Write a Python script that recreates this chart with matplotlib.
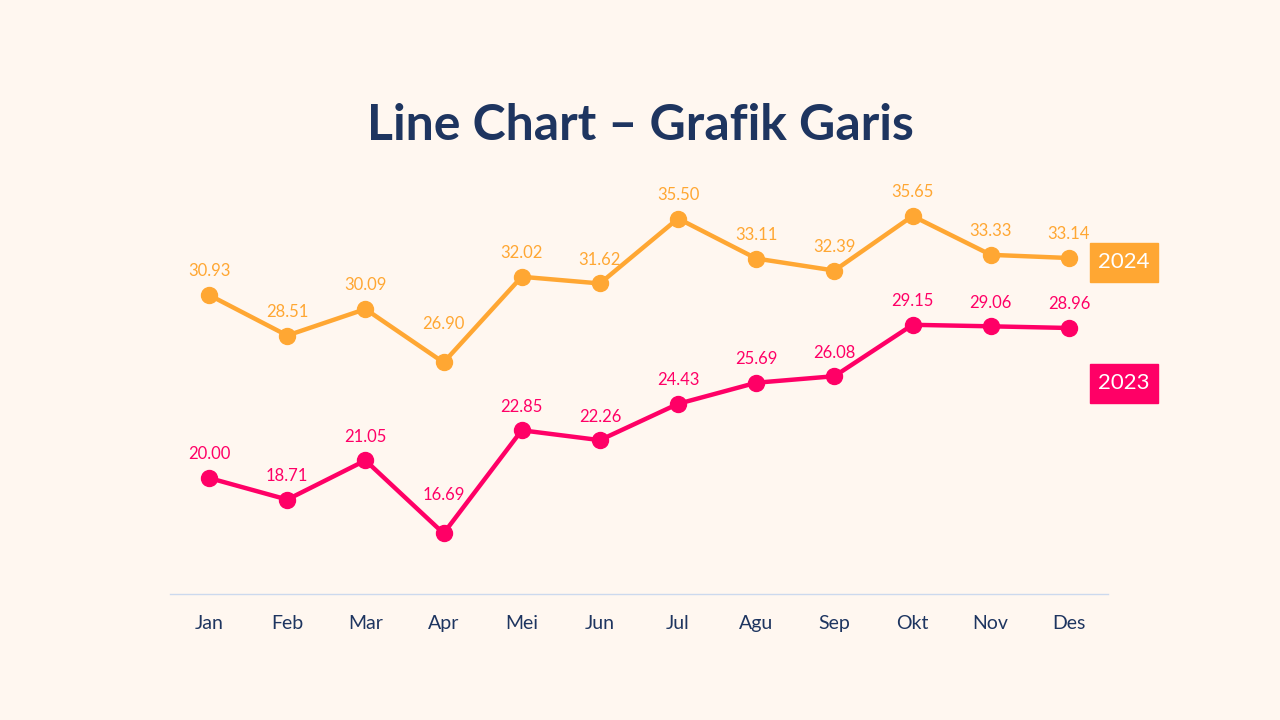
import matplotlib
matplotlib.use("Agg")
import matplotlib.pyplot as plt

months = ["Jan", "Feb", "Mar", "Apr", "Mei", "Jun", "Jul", "Agu", "Sep", "Okt", "Nov", "Des"]
sales_2024 = [30.93, 28.51, 30.09, 26.90, 32.02, 31.62, 35.50, 33.11, 32.39, 35.65, 33.33, 33.14]
sales_2023 = [20.00, 18.71, 21.05, 16.69, 22.85, 22.26, 24.43, 25.69, 26.08, 29.15, 29.06, 28.96]

bg = "#FFF7F0"
navy = "#1E3560"
orange = "#FFA733"
pink = "#FF0066"

plt.rcParams['font.family'] = ['Lato', 'DejaVu Sans']

fig = plt.figure(figsize=(12.8, 7.2), dpi=100, facecolor=bg)
ax = fig.add_axes([170 / 1280, 1 - 594 / 720, 938 / 1280, 414 / 720])
ax.set_facecolor(bg)

x = list(range(len(months)))
for vals, col in [(sales_2024, orange), (sales_2023, pink)]:
    ax.plot(x, vals, color=col, lw=3.2, marker='o', markersize=11.5, solid_capstyle='round', zorder=3)
    for i, v in enumerate(vals):
        # labels in a sharp dip are pushed higher so they clear the lines
        dip = 0 < i < len(vals) - 1 and v < vals[i - 1] and v < vals[i + 1] and min(vals[i - 1], vals[i + 1]) - v > 2.5
        off = 28 if dip else 17
        ax.annotate(f"{v:.2f}", (i, v), xytext=(0, off), textcoords='offset points',
                    ha='center', va='center', fontsize=12, color=col)

ax.set_xlim(-0.5, 11.5)
ax.set_ylim(13.07, 37.80)
ax.set_xticks(x)
ax.set_xticklabels(months, fontsize=14, color=navy)
ax.tick_params(axis='x', length=0, pad=15)
ax.set_yticks([])
for s in ['top', 'right', 'left']:
    ax.spines[s].set_visible(False)
ax.spines['bottom'].set_color('#CCD9EE')
ax.spines['bottom'].set_linewidth(1)

fig.text(0.5, 1 - 125 / 720, "Line Chart – Grafik Garis", ha='center', va='center',
         fontsize=36, fontweight='bold', color=navy)

for label, col, yc in [("2024", orange, 262), ("2023", pink, 383)]:
    fig.patches.append(plt.Rectangle((1090 / 1280, 1 - (yc + 20) / 720), 68 / 1280, 39 / 720,
                                     transform=fig.transFigure, color=col, zorder=1))
    fig.text(1124 / 1280, 1 - yc / 720, label, ha='center', va='center',
             fontsize=16, color='white', zorder=2)

fig.savefig("out.png", dpi=100, facecolor=bg)
